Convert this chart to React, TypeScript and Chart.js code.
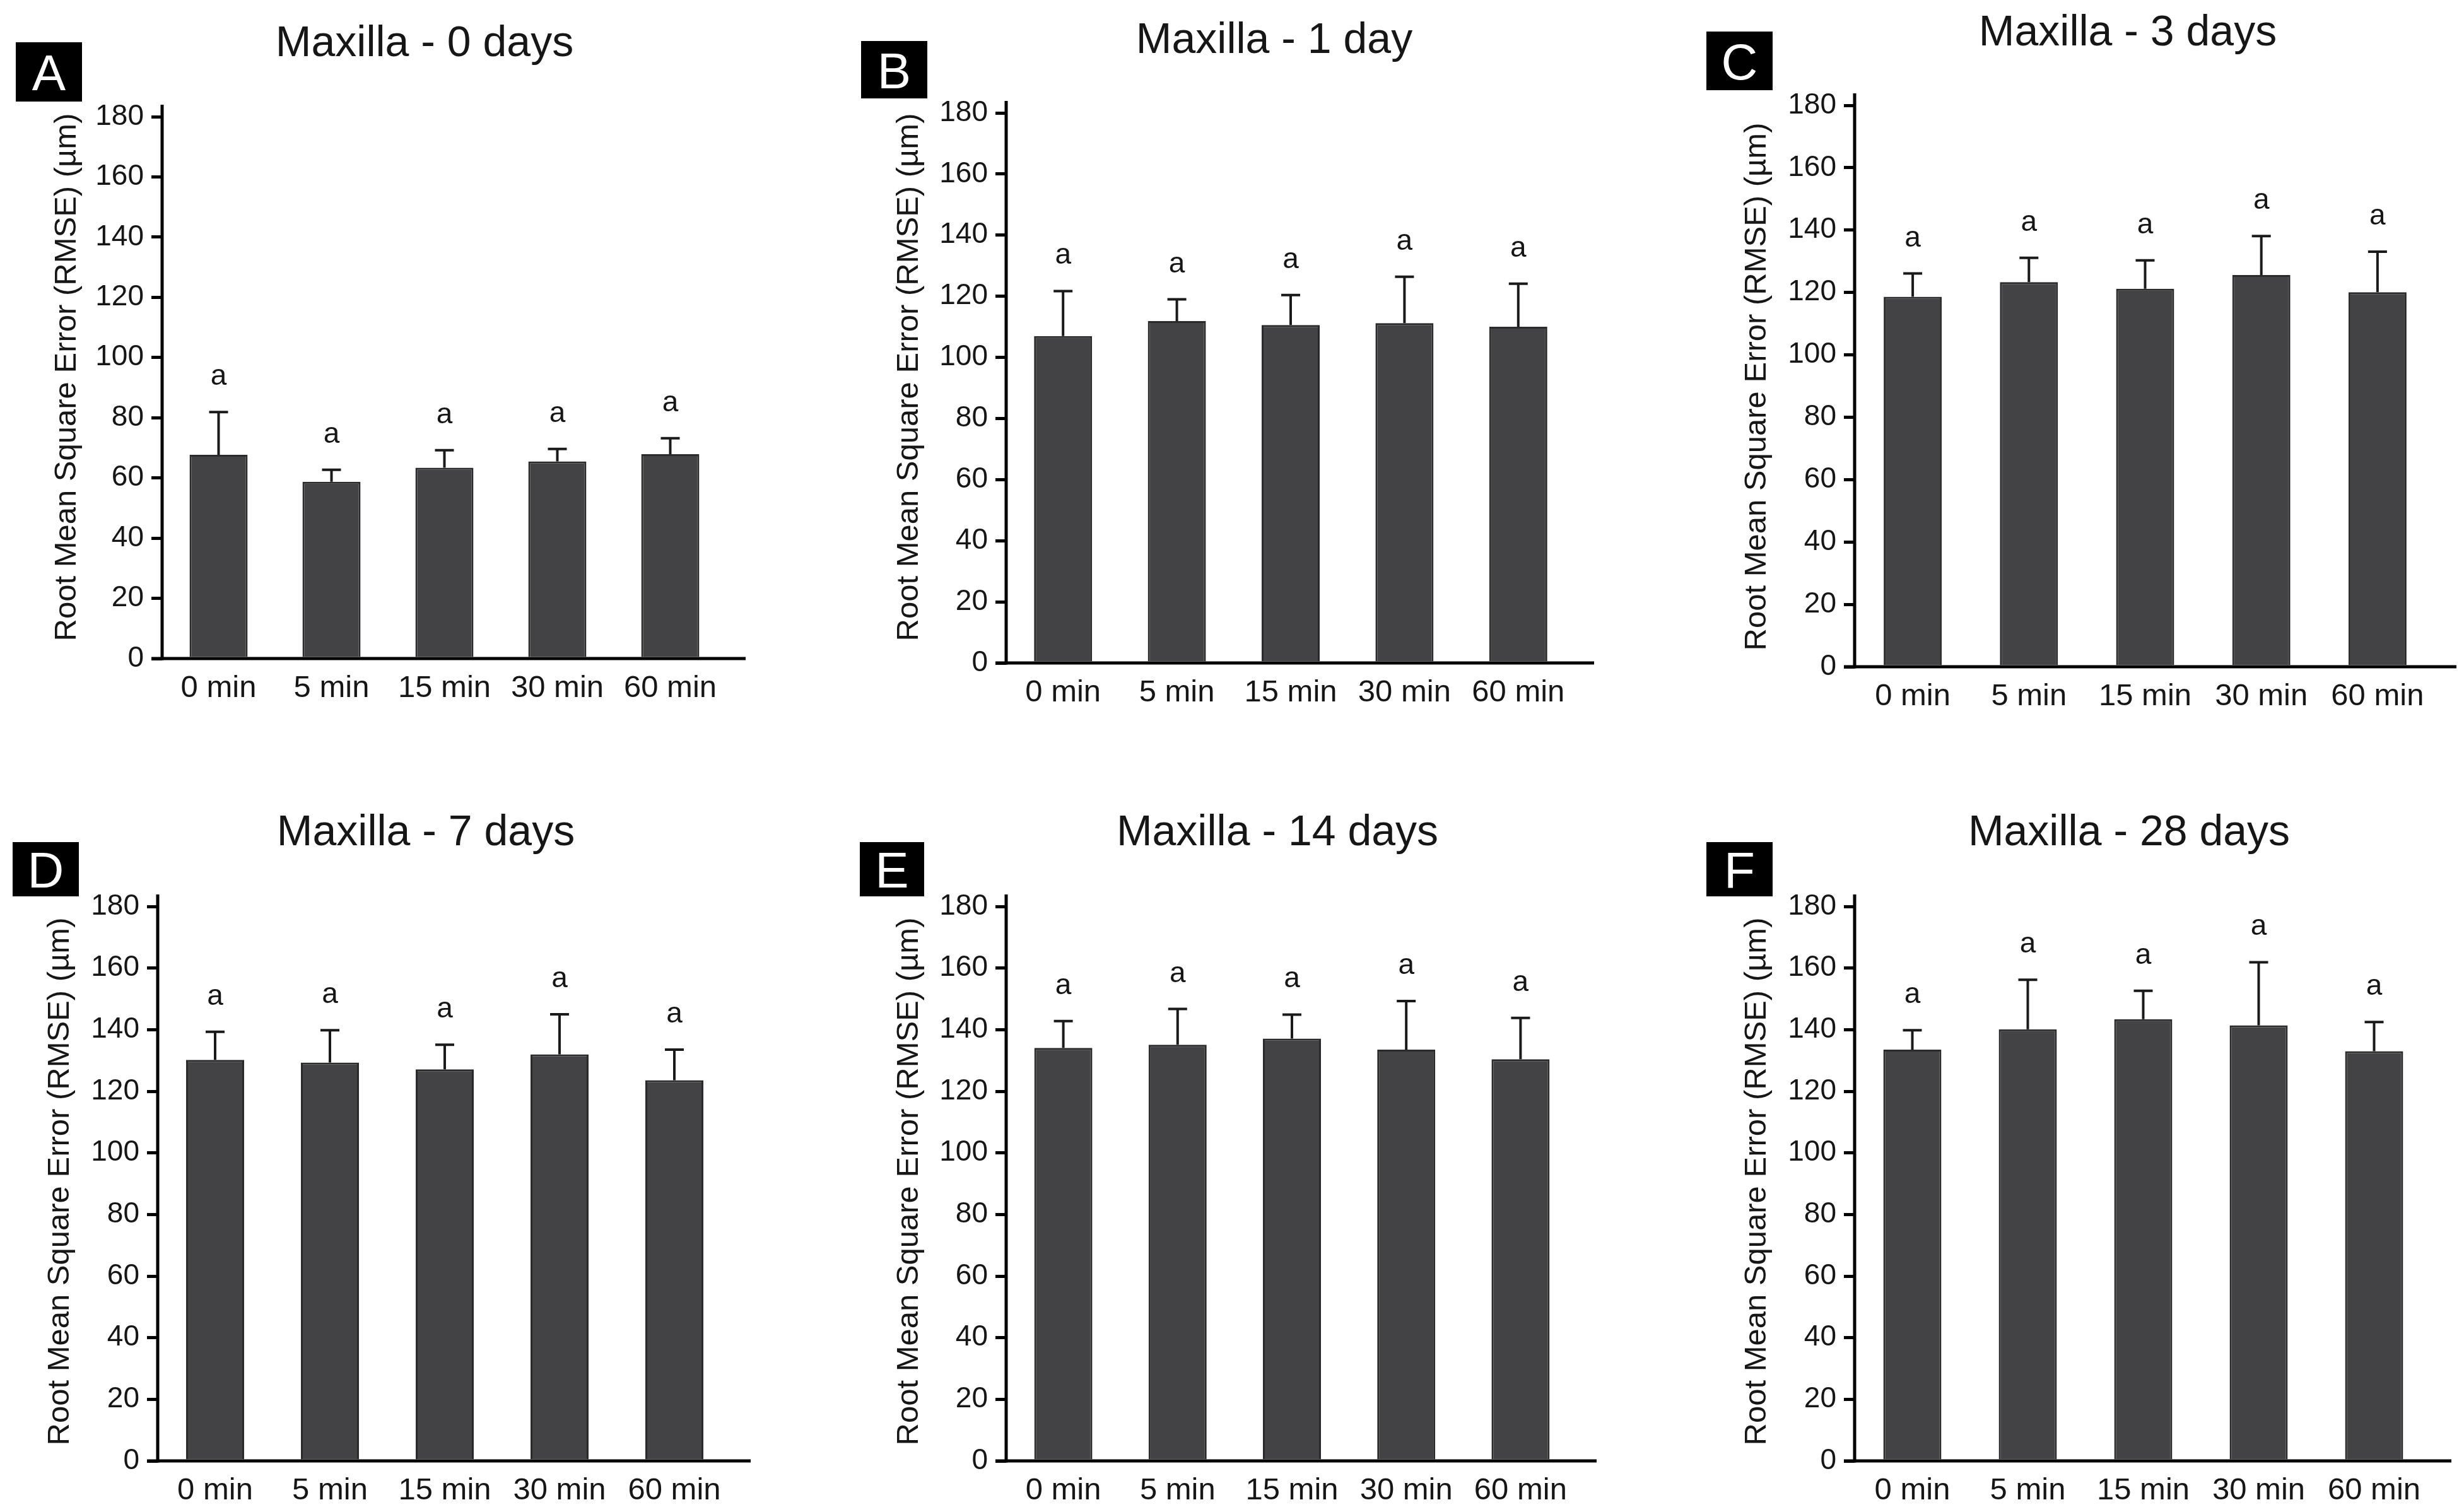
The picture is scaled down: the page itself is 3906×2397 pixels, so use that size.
import React, { useEffect, useRef } from "react";
import { Chart, registerables } from "chart.js";

Chart.register(...registerables);

// ---------- data ----------
const categories = ["0 min", "5 min", "15 min", "30 min", "60 min"];
const panelTitles = [
  "Maxilla - 0 days",
  "Maxilla - 1 day",
  "Maxilla - 3 days",
  "Maxilla - 7 days",
  "Maxilla - 14 days",
  "Maxilla - 28 days",
];
const panelLetters = ["A", "B", "C", "D", "E", "F"];
const yAxisTitle = "Root Mean Square Error (RMSE) (µm)";
const yMin = 0;
const yMax = 180;
const yStep = 20;

const meanDay0 = [67.7, 58.7, 63.4, 65.5, 67.9];
const sdDay0 = [14.2, 4.0, 5.8, 4.1, 5.3];
const meanDay1 = [107.0, 111.9, 110.6, 111.2, 110.0];
const sdDay1 = [14.7, 7.1, 9.8, 15.2, 14.1];
const meanDay3 = [118.6, 123.3, 121.2, 125.6, 120.1];
const sdDay3 = [7.5, 7.8, 9.1, 12.5, 13.0];
const meanDay7 = [130.2, 129.3, 127.1, 132.0, 123.6];
const sdDay7 = [9.1, 10.5, 8.0, 13.0, 9.9];
const meanDay14 = [134.1, 135.1, 137.1, 133.5, 130.4];
const sdDay14 = [8.7, 11.6, 7.8, 15.8, 13.4];
const meanDay28 = [133.5, 140.1, 143.4, 141.4, 133.0];
const sdDay28 = [6.3, 16.1, 9.2, 20.5, 9.5];
const sigDay0 = ["a", "a", "a", "a", "a"];
const sigDay1 = ["a", "a", "a", "a", "a"];
const sigDay3 = ["a", "a", "a", "a", "a"];
const sigDay7 = ["a", "a", "a", "a", "a"];
const sigDay14 = ["a", "a", "a", "a", "a"];
const sigDay28 = ["a", "a", "a", "a", "a"];

const means = [meanDay0, meanDay1, meanDay3, meanDay7, meanDay14, meanDay28];
const sds = [sdDay0, sdDay1, sdDay3, sdDay7, sdDay14, sdDay28];
const sigs = [sigDay0, sigDay1, sigDay3, sigDay7, sigDay14, sigDay28];

// ---------- layout (page pixels) ----------
type Layout = {
  cx: number; cy: number; cw: number; ch: number;
  axisX: number; R: number; y180: number; y0: number; xEnd: number;
  tx: number; ty: number; box: number[]; ytx: number; yty: number;
};
const layouts: Layout[] = [
  { cx: 0, cy: 0, cw: 1300, ch: 1200, axisX: 257, R: 1152, y180: 185, y0: 1044, xEnd: 1182, tx: 673, ty: 67, box: [25, 67, 130, 161], ytx: 106, yty: 598 },
  { cx: 1300, cy: 0, cw: 1340, ch: 1200, axisX: 1595, R: 2497, y180: 179, y0: 1051, xEnd: 2527, tx: 2020, ty: 62, box: [1365, 65, 1470, 156], ytx: 1441, yty: 598 },
  { cx: 2640, cy: 0, cw: 1266, ch: 1200, axisX: 2940, R: 3861, y180: 167, y0: 1057, xEnd: 3894, tx: 3373, ty: 50, box: [2705, 50, 2810, 143], ytx: 2785, yty: 613 },
  { cx: 0, cy: 1200, cw: 1300, ch: 1197, axisX: 250, R: 1160, y180: 1437, y0: 2316, xEnd: 1190, tx: 675, ty: 1318, box: [20, 1335, 125, 1421], ytx: 95, yty: 1873 },
  { cx: 1300, cy: 1200, cw: 1340, ch: 1197, axisX: 1595, R: 2501, y180: 1437, y0: 2316, xEnd: 2531, tx: 2025, ty: 1318, box: [1363, 1335, 1465, 1421], ytx: 1441, yty: 1873 },
  { cx: 2640, cy: 1200, cw: 1266, ch: 1197, axisX: 2940, R: 3855, y180: 1437, y0: 2316, xEnd: 3886, tx: 3375, ty: 1318, box: [2705, 1335, 2810, 1421], ytx: 2785, yty: 1873 },
];

const FONT = "'Liberation Sans', Arial, Helvetica, sans-serif";
const TEXT = "#161616";
const BAR_FILL = "#434345";
const BAR_EDGE = "#2a2a2a";
const BAR_PX = 92;
const YW = 120;
const XH = 70;

function Panel({ idx }: { idx: number }) {
  const ref = useRef<HTMLCanvasElement | null>(null);
  const L = layouts[idx];

  useEffect(() => {
    const canvas = ref.current;
    if (!canvas) return;
    const catW = (L.R - L.axisX) / categories.length;
    const mean = means[idx];
    const sd = sds[idx];
    const sig = sigs[idx];

    const decor = {
      id: "decor" + idx,
      afterDraw(chart: any) {
        const ctx = chart.ctx as CanvasRenderingContext2D;
        const ys = chart.scales.y;
        const left = chart.chartArea.left;
        const y0 = ys.getPixelForValue(yMin);
        const yT = ys.getPixelForValue(yMax);
        ctx.save();
        // error bars + significance letters
        const meta = chart.getDatasetMeta(0);
        ctx.strokeStyle = "#1a1a1a";
        ctx.lineWidth = 4;
        ctx.fillStyle = TEXT;
        ctx.font = `46px ${FONT}`;
        ctx.textAlign = "center";
        ctx.textBaseline = "alphabetic";
        meta.data.forEach((bar: any, i: number) => {
          const yb = ys.getPixelForValue(mean[i]);
          const ye = ys.getPixelForValue(mean[i] + sd[i]);
          ctx.beginPath();
          ctx.moveTo(bar.x, yb);
          ctx.lineTo(bar.x, ye);
          ctx.moveTo(bar.x - 15, ye);
          ctx.lineTo(bar.x + 15, ye);
          ctx.stroke();
          ctx.fillText(sig[i], bar.x, ye - 43);
        });
        // axes
        ctx.strokeStyle = "#000";
        ctx.lineWidth = 5;
        ctx.lineCap = "butt";
        ctx.beginPath();
        ctx.moveTo(left, yT - 19);
        ctx.lineTo(left, y0 + 2.5);
        ctx.stroke();
        ctx.beginPath();
        ctx.moveTo(left - 17, y0);
        ctx.lineTo(L.xEnd - L.cx, y0);
        ctx.stroke();
        // panel title
        ctx.fillStyle = TEXT;
        ctx.font = `68px ${FONT}`;
        ctx.textAlign = "center";
        ctx.textBaseline = "alphabetic";
        ctx.fillText(panelTitles[idx], L.tx - L.cx, L.ty - L.cy + 22);
        // letter box
        const [bx1, by1, bx2, by2] = L.box;
        ctx.fillStyle = "#000";
        ctx.fillRect(bx1 - L.cx, by1 - L.cy, bx2 - bx1, by2 - by1);
        ctx.fillStyle = "#fff";
        ctx.font = `80px ${FONT}`;
        ctx.fillText(panelLetters[idx], (bx1 + bx2) / 2 - L.cx, (by1 + by2) / 2 - L.cy + 29);
        // y axis title
        ctx.fillStyle = TEXT;
        ctx.font = `49px ${FONT}`;
        ctx.translate(L.ytx - L.cx, L.yty - L.cy);
        ctx.rotate(-Math.PI / 2);
        ctx.textBaseline = "middle";
        ctx.fillText(yAxisTitle, 0, 0);
        ctx.restore();
      },
    };

    const chart = new Chart(canvas, {
      type: "bar",
      data: {
        labels: categories,
        datasets: [
          {
            data: mean,
            backgroundColor: BAR_FILL,
            borderColor: BAR_EDGE,
            borderWidth: 3,
            barPercentage: BAR_PX / catW,
            categoryPercentage: 1,
          },
        ],
      },
      options: {
        responsive: false,
        animation: false,
        devicePixelRatio: 1,
        layout: {
          padding: {
            left: L.axisX - L.cx - YW,
            right: L.cx + L.cw - L.R,
            top: L.y180 - L.cy,
            bottom: L.cy + L.ch - L.y0 - XH,
          },
        },
        plugins: {
          legend: { display: false },
          tooltip: { enabled: false },
          title: { display: false },
        },
        scales: {
          x: {
            type: "category",
            grid: { display: false, drawTicks: false },
            border: { display: false },
            ticks: {
              font: { family: FONT, size: 49 },
              color: TEXT,
              padding: 18,
              maxRotation: 0,
              autoSkip: false,
            },
            afterFit: (s: any) => {
              s.height = XH;
            },
          },
          y: {
            min: yMin,
            max: yMax,
            ticks: {
              stepSize: yStep,
              font: { family: FONT, size: 46 },
              color: TEXT,
              padding: 12,
            },
            grid: {
              drawOnChartArea: false,
              drawTicks: true,
              tickLength: 17,
              lineWidth: 5,
              color: "#000",
            },
            border: { display: false },
            afterFit: (s: any) => {
              s.width = YW;
            },
          },
        },
      },
      plugins: [decor],
    } as any);
    return () => chart.destroy();
  }, [idx]);

  return (
    <canvas
      ref={ref}
      width={L.cw}
      height={L.ch}
      style={{ position: "absolute", left: L.cx, top: L.cy, width: L.cw, height: L.ch }}
    />
  );
}

export default function App() {
  return (
    <div
      style={{
        position: "absolute",
        left: 0,
        top: 0,
        width: 3906,
        height: 2397,
        background: "#ffffff",
        overflow: "hidden",
      }}
    >
      {layouts.map((_, i) => (
        <Panel key={i} idx={i} />
      ))}
    </div>
  );
}
